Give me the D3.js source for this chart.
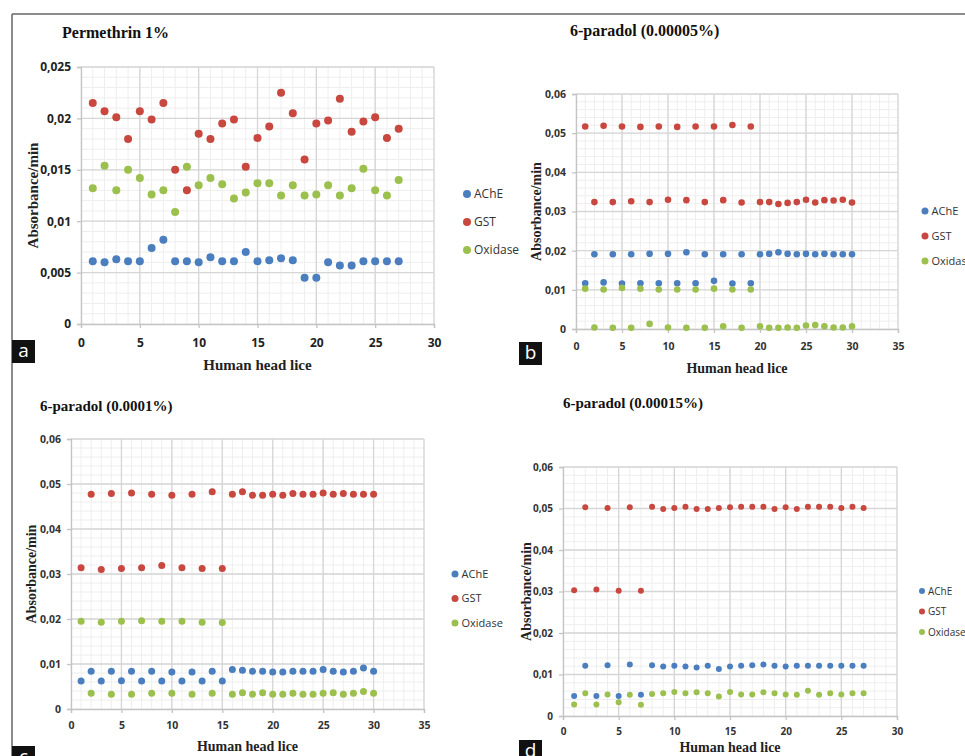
<!DOCTYPE html>
<html>
<head>
<meta charset="utf-8">
<script src="https://cdn.jsdelivr.net/npm/d3@7"></script>
<style>
    body { margin: 0; background: #fff; }
    svg { display: block; }
</style>
</head>
<body>
<div id="chart"></div>
<script>
// head lice numbers (x values)
var lice = [1, 2, 3, 4, 5, 6, 7, 8, 9, 10, 11, 12, 13, 14, 15, 16, 17, 18, 19, 20, 21, 22, 23, 24, 25, 26, 27, 28, 29, 30];
var seriesNames = ["AChE", "GST", "Oxidase"];

// a - Permethrin 1%
var permAChE = [0.0061, 0.0060, 0.0063, 0.0061, 0.0061, 0.0074, 0.0082, 0.0061, 0.0061, 0.0060, 0.0065, 0.0061, 0.0061, 0.0070, 0.0061, 0.0062, 0.0064, 0.0062, 0.0045, 0.0045, 0.0060, 0.0057, 0.0057, 0.0061, 0.0061, 0.0061, 0.0061];
var permGST = [0.0215, 0.0207, 0.0201, 0.0180, 0.0207, 0.0199, 0.0215, 0.0150, 0.0130, 0.0185, 0.0180, 0.0195, 0.0199, 0.0153, 0.0181, 0.0192, 0.0225, 0.0205, 0.0160, 0.0195, 0.0198, 0.0219, 0.0187, 0.0197, 0.0201, 0.0181, 0.0190];
var permOx = [0.0132, 0.0154, 0.0130, 0.0150, 0.0142, 0.0126, 0.0130, 0.0109, 0.0153, 0.0135, 0.0142, 0.0136, 0.0122, 0.0128, 0.0137, 0.0137, 0.0125, 0.0135, 0.0125, 0.0126, 0.0135, 0.0125, 0.0132, 0.0151, 0.0130, 0.0125, 0.0140];

// b - 6-paradol 0.00005%
var p5AChE = [0.0117, 0.0191, 0.0119, 0.0191, 0.0116, 0.0191, 0.0117, 0.0192, 0.0117, 0.0192, 0.0117, 0.0196, 0.0117, 0.0191, 0.0123, 0.0191, 0.0116, 0.0191, 0.0117, 0.0191, 0.0192, 0.0196, 0.0192, 0.0191, 0.0192, 0.0191, 0.0192, 0.0191, 0.0191, 0.0191];
var p5GST = [0.0517, 0.0324, 0.0519, 0.0324, 0.0517, 0.0326, 0.0516, 0.0324, 0.0517, 0.0330, 0.0516, 0.0329, 0.0517, 0.0324, 0.0517, 0.0329, 0.0521, 0.0323, 0.0517, 0.0324, 0.0324, 0.0319, 0.0322, 0.0324, 0.0330, 0.0323, 0.0329, 0.0328, 0.0330, 0.0323];
var p5Ox = [0.0103, 0.0004, 0.0101, 0.0003, 0.0105, 0.0003, 0.0103, 0.0013, 0.0101, 0.0004, 0.0101, 0.0003, 0.0101, 0.0003, 0.0103, 0.0007, 0.0101, 0.0003, 0.0101, 0.0007, 0.0003, 0.0003, 0.0004, 0.0003, 0.0009, 0.0010, 0.0007, 0.0004, 0.0004, 0.0007];

// c - 6-paradol 0.0001%
var p10AChE = [0.0062, 0.0084, 0.0062, 0.0084, 0.0063, 0.0084, 0.0062, 0.0084, 0.0062, 0.0082, 0.0062, 0.0082, 0.0062, 0.0084, 0.0062, 0.0088, 0.0086, 0.0084, 0.0084, 0.0082, 0.0082, 0.0084, 0.0084, 0.0084, 0.0088, 0.0084, 0.0082, 0.0084, 0.0091, 0.0084];
var p10GST = [0.0314, 0.0477, 0.0310, 0.0479, 0.0312, 0.0480, 0.0314, 0.0477, 0.0319, 0.0475, 0.0314, 0.0477, 0.0312, 0.0483, 0.0312, 0.0477, 0.0483, 0.0475, 0.0475, 0.0477, 0.0475, 0.0479, 0.0477, 0.0477, 0.0480, 0.0477, 0.0479, 0.0477, 0.0477, 0.0477];
var p10Ox = [0.0195, 0.0035, 0.0193, 0.0033, 0.0195, 0.0033, 0.0196, 0.0035, 0.0195, 0.0035, 0.0195, 0.0033, 0.0193, 0.0035, 0.0192, 0.0033, 0.0036, 0.0033, 0.0036, 0.0033, 0.0033, 0.0035, 0.0033, 0.0033, 0.0035, 0.0036, 0.0033, 0.0035, 0.0039, 0.0035];

// d - 6-paradol 0.00015%
var p15AChE = [0.0048, 0.0121, 0.0048, 0.0122, 0.0048, 0.0124, 0.0051, 0.0122, 0.0119, 0.0121, 0.0119, 0.0117, 0.0121, 0.0113, 0.0119, 0.0121, 0.0122, 0.0124, 0.0121, 0.0119, 0.0121, 0.0121, 0.0121, 0.0121, 0.0121, 0.0121, 0.0121];
var p15GST = [0.0303, 0.0503, 0.0305, 0.0501, 0.0302, 0.0503, 0.0302, 0.0504, 0.0499, 0.0501, 0.0504, 0.0499, 0.0499, 0.0501, 0.0503, 0.0504, 0.0504, 0.0504, 0.0499, 0.0503, 0.0499, 0.0504, 0.0504, 0.0504, 0.0501, 0.0504, 0.0501];
var p15Ox = [0.0028, 0.0055, 0.0028, 0.0052, 0.0033, 0.0051, 0.0027, 0.0053, 0.0055, 0.0058, 0.0055, 0.0057, 0.0055, 0.0047, 0.0058, 0.0052, 0.0052, 0.0057, 0.0055, 0.0052, 0.0051, 0.0061, 0.0051, 0.0055, 0.0052, 0.0055, 0.0055];

var colors = ["#4a7ebf", "#c8473f", "#9cc04d"];

var panels = [
    {
        letter: "a", title: "Permethrin 1%", series: [permAChE, permGST, permOx],
        x0: 81, x1: 434, y0: 324, y1: 67, xmax: 30, ymax: 0.025, ystep: 0.005,
        titleX: 62, titleY: 38, titleSize: 16, tickSize: 12, tickColor: "#222", r: 4, xPad: 10,
        yTitleX: 33, xTitleY: 370, axisTitleSize: 15,
        legX: 467, legY: 194, legGap: 28, legSize: 12, legR: 4,
        boxX: 12, boxY: 340
    },
    {
        letter: "b", title: "6-paradol (0.00005%)", series: [p5AChE, p5GST, p5Ox],
        x0: 576, x1: 898, y0: 329, y1: 94, xmax: 35, ymax: 0.06, ystep: 0.01,
        titleX: 570, titleY: 36, titleSize: 16, tickSize: 10.5, tickColor: "#333", r: 3.3, xPad: 10,
        yTitleX: 536, xTitleY: 373, axisTitleSize: 14,
        legX: 925, legY: 211, legGap: 25, legSize: 11, legR: 3.5,
        boxX: 519, boxY: 342
    },
    {
        letter: "c", title: "6-paradol (0.0001%)", series: [p10AChE, p10GST, p10Ox],
        x0: 71, x1: 424, y0: 709, y1: 439, xmax: 35, ymax: 0.06, ystep: 0.01,
        titleX: 40, titleY: 411, titleSize: 15, tickSize: 10.5, tickColor: "#333", r: 3.5, xPad: 9,
        yTitleX: 31, xTitleY: 751, axisTitleSize: 14,
        legX: 455, legY: 574, legGap: 24.5, legSize: 11, legR: 3.5,
        boxX: 12, boxY: 746
    },
    {
        letter: "d", title: "6-paradol (0.00015%)", series: [p15AChE, p15GST, p15Ox],
        x0: 563, x1: 897, y0: 716, y1: 467, xmax: 30, ymax: 0.06, ystep: 0.01,
        titleX: 563, titleY: 408, titleSize: 15, tickSize: 10, tickColor: "#333", r: 3, xPad: 8,
        yTitleX: 526, xTitleY: 752, axisTitleSize: 14,
        legX: 922, legY: 591, legGap: 20.5, legSize: 10, legR: 3,
        boxX: 519, boxY: 740
    }
];

var W = 965, H = 756;
var svg = d3.select("#chart").append("svg").attr("width", W).attr("height", H);

// outer frame
svg.append("line").attr("x1", 12).attr("y1", 14).attr("x2", W).attr("y2", 14)
    .attr("stroke", "#666").attr("stroke-width", 1.5);
svg.append("line").attr("x1", 12).attr("y1", 14).attr("x2", 12).attr("y2", H)
    .attr("stroke", "#666").attr("stroke-width", 1.5);

var fmt = function (v) {
    var s = String(+v.toFixed(4));
    return s.replace(".", ",");
}

panels.forEach(drawPanel);

function drawPanel(p) {
    var x = d3.scaleLinear().domain([0, p.xmax]).range([p.x0, p.x1]);
    var y = d3.scaleLinear().domain([0, p.ymax]).range([p.y0, p.y1]);
    var g = svg.append("g");

    // minor grid
    var xMinor = d3.range(0, p.xmax + 0.001, 1);
    var yMinor = d3.range(0, p.ymax + 1e-9, p.ystep / 5);
    g.selectAll(".vminor").data(xMinor).enter().append("line")
        .attr("x1", d => x(d)).attr("x2", d => x(d)).attr("y1", p.y0).attr("y2", p.y1)
        .attr("stroke", "#eeeeee").attr("stroke-width", 1);
    g.selectAll(".hminor").data(yMinor).enter().append("line")
        .attr("x1", p.x0).attr("x2", p.x1).attr("y1", d => y(d)).attr("y2", d => y(d))
        .attr("stroke", "#eeeeee").attr("stroke-width", 1);

    // major grid
    var xMajor = d3.range(0, p.xmax + 0.001, 5);
    var yMajor = d3.range(0, p.ymax + 1e-9, p.ystep);
    g.selectAll(".vmajor").data(xMajor.slice(1)).enter().append("line")
        .attr("x1", d => x(d)).attr("x2", d => x(d)).attr("y1", p.y0).attr("y2", p.y1)
        .attr("stroke", "#d6d6d6").attr("stroke-width", 1.3);
    g.selectAll(".hmajor").data(yMajor.slice(1)).enter().append("line")
        .attr("x1", p.x0).attr("x2", p.x1).attr("y1", d => y(d)).attr("y2", d => y(d))
        .attr("stroke", "#d6d6d6").attr("stroke-width", 1.3);

    // axes
    var yAxis = d3.axisLeft(y).tickValues(yMajor).tickFormat(fmt).tickSize(4).tickPadding(6);
    var xAxis = d3.axisBottom(x).tickValues(xMajor).tickFormat(d3.format("d")).tickSize(4).tickPadding(p.xPad);
    var ya = g.append("g").attr("transform", "translate(" + p.x0 + ",0)").call(yAxis);
    var xa = g.append("g").attr("transform", "translate(0," + p.y0 + ")").call(xAxis);
    [ya, xa].forEach(function (a) {
        a.selectAll("path, line").attr("stroke", "#c4c4c4").attr("stroke-width", 1.3);
        a.selectAll("text").attr("fill", p.tickColor)
            .style("font-family", "'Open Sans', sans-serif")
            .style("font-weight", "bold")
            .style("font-size", p.tickSize + "px");
    });

    // points
    p.series.forEach(function (vals, si) {
        g.selectAll(".pt" + si).data(vals).enter().append("circle")
            .attr("cx", (d, i) => x(lice[i]))
            .attr("cy", d => y(d))
            .attr("r", p.r)
            .attr("fill", colors[si]);
    });

    // titles
    g.append("text").attr("x", p.titleX).attr("y", p.titleY)
        .style("font-family", "'Liberation Serif', serif").style("font-weight", "bold")
        .style("font-size", p.titleSize + "px").attr("fill", "#111").text(p.title);
    g.append("text").attr("x", (p.x0 + p.x1) / 2).attr("y", p.xTitleY)
        .attr("text-anchor", "middle")
        .style("font-family", "'Liberation Serif', serif").style("font-weight", "bold")
        .style("font-size", p.axisTitleSize + "px").attr("fill", "#222").text("Human head lice");
    g.append("text")
        .attr("transform", "translate(" + p.yTitleX + "," + ((p.y0 + p.y1) / 2) + ") rotate(-90)")
        .attr("text-anchor", "middle").attr("dy", "0.35em")
        .style("font-family", "'Liberation Serif', serif").style("font-weight", "bold")
        .style("font-size", p.axisTitleSize + "px").attr("fill", "#222").text("Absorbance/min");

    // legend
    seriesNames.forEach(function (name, i) {
        var ly = p.legY + i * p.legGap;
        g.append("circle").attr("cx", p.legX).attr("cy", ly).attr("r", p.legR).attr("fill", colors[i]);
        g.append("text").attr("x", p.legX + p.legR + 3).attr("y", ly).attr("dy", "0.35em")
            .style("font-family", "'Open Sans', sans-serif").style("font-size", p.legSize + "px")
            .attr("fill", "#333").text(name);
    });

    // panel letter box
    g.append("rect").attr("x", p.boxX).attr("y", p.boxY).attr("width", 23).attr("height", 23).attr("fill", "#111");
    g.append("text").attr("x", p.boxX + 11.5).attr("y", p.boxY + 17).attr("text-anchor", "middle")
        .style("font-family", "'Open Sans', sans-serif").style("font-size", "19px")
        .attr("fill", "#fff").text(p.letter);
}
</script>
</body>
</html>
